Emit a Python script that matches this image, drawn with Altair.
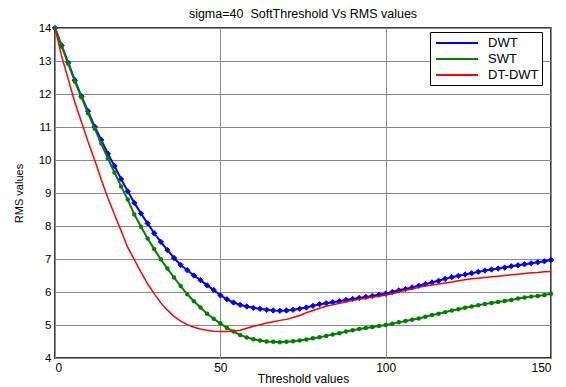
import altair as alt
import pandas as pd

thresholds = list(range(0, 151, 2))

dwt = [14.00, 13.47, 12.95, 12.42, 11.93, 11.48, 11.01, 10.61, 10.19, 9.82,
       9.42, 9.05, 8.70, 8.38, 8.08, 7.78, 7.52, 7.27, 7.03, 6.82,
       6.66, 6.50, 6.36, 6.20, 6.06, 5.90, 5.78, 5.68, 5.61, 5.56,
       5.52, 5.49, 5.46, 5.44, 5.43, 5.44, 5.46, 5.49, 5.53, 5.58,
       5.63, 5.66, 5.69, 5.72, 5.76, 5.79, 5.82, 5.85, 5.88, 5.92,
       5.95, 6.00, 6.05, 6.09, 6.14, 6.19, 6.24, 6.29, 6.34, 6.40,
       6.45, 6.49, 6.53, 6.57, 6.61, 6.65, 6.68, 6.71, 6.74, 6.78,
       6.81, 6.84, 6.87, 6.90, 6.93, 6.97]

swt = [14.00, 13.45, 12.92, 12.38, 11.90, 11.42, 10.95, 10.50, 10.05, 9.62,
       9.20, 8.80, 8.35, 7.98, 7.62, 7.30, 6.99, 6.71, 6.44, 6.18,
       5.93, 5.72, 5.53, 5.34, 5.19, 5.05, 4.91, 4.80, 4.70, 4.62,
       4.57, 4.53, 4.50, 4.49, 4.48, 4.49, 4.51, 4.53, 4.56, 4.60,
       4.63, 4.67, 4.71, 4.75, 4.80, 4.84, 4.88, 4.91, 4.94, 4.97,
       5.00, 5.04, 5.08, 5.12, 5.16, 5.20, 5.25, 5.30, 5.34, 5.39,
       5.44, 5.48, 5.52, 5.56, 5.60, 5.64, 5.67, 5.70, 5.73, 5.76,
       5.80, 5.83, 5.86, 5.88, 5.91, 5.95]

dtdwt = [14.00, 13.15, 12.45, 11.75, 11.15, 10.55, 10.00, 9.40, 8.85, 8.35,
         7.85, 7.35, 6.98, 6.60, 6.25, 5.95, 5.67, 5.45, 5.26, 5.12,
         5.01, 4.93, 4.88, 4.84, 4.81, 4.80, 4.80, 4.81, 4.84, 4.90,
         4.96, 5.01, 5.06, 5.10, 5.14, 5.17, 5.23, 5.29, 5.37, 5.44,
         5.51, 5.57, 5.61, 5.66, 5.70, 5.74, 5.78, 5.81, 5.84, 5.87,
         5.91, 5.95, 6.00, 6.05, 6.09, 6.14, 6.18, 6.21, 6.24, 6.27,
         6.30, 6.34, 6.37, 6.40, 6.42, 6.44, 6.46, 6.48, 6.50, 6.52,
         6.54, 6.56, 6.58, 6.59, 6.61, 6.62]

series_names = ["DWT", "SWT", "DT-DWT"]
series_colors = ["#0000ff", "#008000", "#ff0000"]
x_ticks = [0, 50, 100, 150]
y_ticks = [4, 5, 6, 7, 8, 9, 10, 11, 12, 13, 14]

rows = []
for name, vals in zip(series_names, [dwt, swt, dtdwt]):
    for t, v in zip(thresholds, vals):
        rows.append({"threshold": t, "rms": v, "series": name})
df = pd.DataFrame(rows)

FONT = "Liberation Sans"

x_enc = alt.X("threshold:Q",
              scale=alt.Scale(domain=[0, 150], nice=False, zero=False),
              axis=alt.Axis(values=x_ticks, title="Threshold values", grid=True,
                            domain=False, ticks=False, labelPadding=4,
                            labelFontSize=12, titleFontSize=12,
                            titlePadding=0))
y_enc = alt.Y("rms:Q",
              scale=alt.Scale(domain=[4, 14], nice=False, zero=False),
              axis=alt.Axis(values=y_ticks, title="RMS values", grid=True,
                            domain=False, ticks=False, labelPadding=4,
                            labelFontSize=11.5, titleFontSize=11,
                            titlePadding=14))
color_enc = alt.Color("series:N",
                      scale=alt.Scale(domain=series_names, range=series_colors),
                      legend=alt.Legend(title=None, orient="none",
                                        legendX=375, legendY=4))

base = alt.Chart(df)

def line_layer(name, width):
    return base.transform_filter(alt.datum.series == name).mark_line(
        strokeWidth=width, clip=True).encode(x=x_enc, y=y_enc, color=color_enc)

blue_line = line_layer("DWT", 2)
blue_pts = base.transform_filter(alt.datum.series == "DWT").mark_point(
    shape="diamond", filled=True, size=28, opacity=1, color="#0000ff",
    stroke="#0000ff", strokeWidth=1).encode(x=x_enc, y=y_enc)
green_line = line_layer("SWT", 2)
green_pts = base.transform_filter(alt.datum.series == "SWT").mark_point(
    shape="circle", filled=True, size=20, opacity=1, color="#008000").encode(
    x=x_enc, y=y_enc)
red_line = line_layer("DT-DWT", 1.5)

chart = alt.layer(blue_line, blue_pts, green_line, green_pts, red_line).properties(
    width=496, height=330,
    background="#ffffff",
    title=alt.TitleParams("sigma=40\u00a0 SoftThreshold Vs RMS values",
                          font=FONT, fontSize=12.5, fontWeight="normal",
                          color="#000000", anchor="middle", offset=2),
    autosize=alt.AutoSizeParams(type="none"),
    padding={"left": 47, "top": 20, "right": 7, "bottom": 28},
).configure_view(
    stroke="#000000", strokeWidth=1.5, fill="#ffffff"
).configure_axis(
    labelFont=FONT, labelColor="#000000",
    titleFont=FONT, titleFontWeight="normal", titleColor="#000000",
    gridColor="#8a8a8a", gridWidth=1, gridOpacity=1
).configure_legend(
    labelFont=FONT, labelFontSize=13, labelColor="#000000",
    symbolType="M-3,0H3", symbolSize=196, symbolStrokeWidth=2,
    symbolOffset=16, labelOffset=23,
    strokeColor="#000000", fillColor="#ffffff", padding=3,
    rowPadding=1, cornerRadius=0
)

chart.save("out.html", embed_options={"renderer": "svg", "actions": False})
